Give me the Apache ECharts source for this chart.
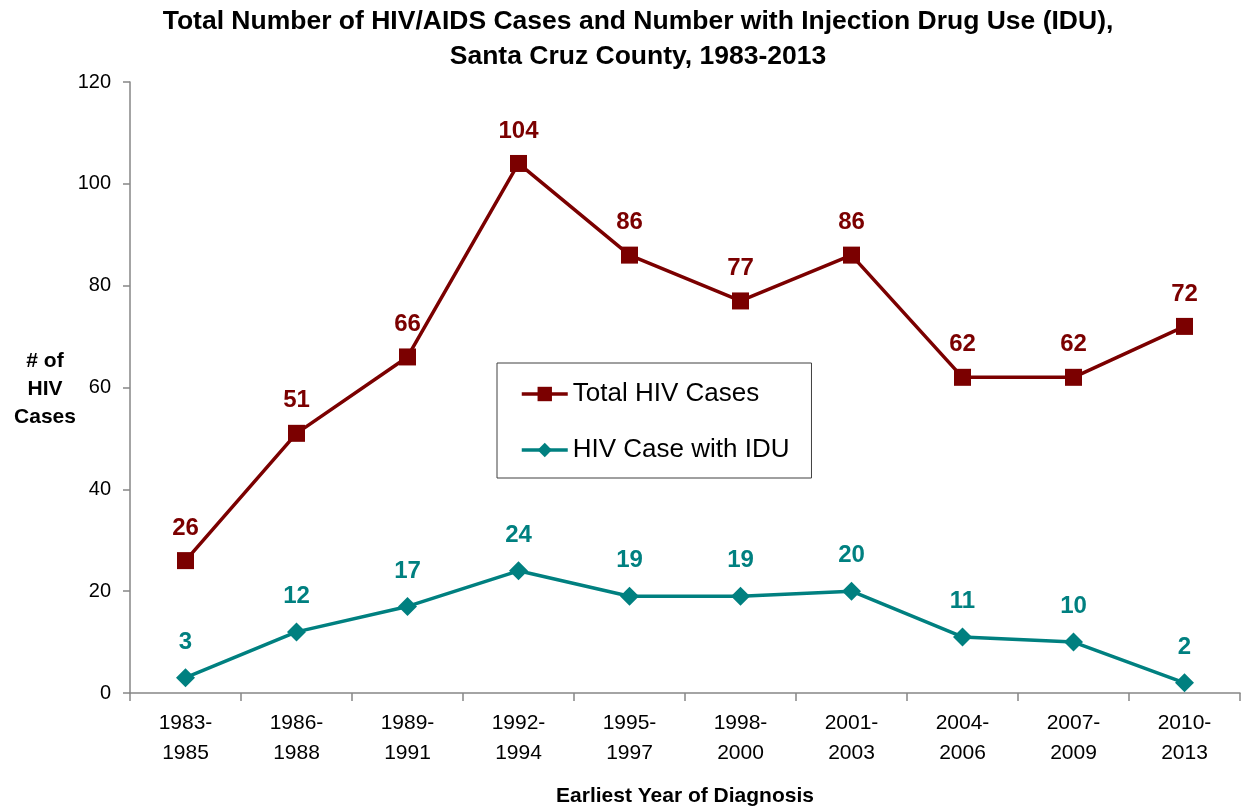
<!DOCTYPE html>
<html>
<head>
<meta charset="utf-8">
<script src="https://cdn.jsdelivr.net/npm/echarts@6/dist/echarts.min.js"></script>
<style>
  html, body { margin: 0; padding: 0; background: #fff; }
  #myChart { width: 1241px; height: 807px; }
</style>
</head>
<body>
<div id="myChart"></div>
<script>
"use strict";
// 数据
var categories = ['1983-\n1985', '1986-\n1988', '1989-\n1991', '1992-\n1994', '1995-\n1997',
                  '1998-\n2000', '2001-\n2003', '2004-\n2006', '2007-\n2009', '2010-\n2013'];
var totalCases = [26, 51, 66, 104, 86, 77, 86, 62, 62, 72];
var iduCases = [3, 12, 17, 24, 19, 19, 20, 11, 10, 2];
var yTicks = [0, 20, 40, 60, 80, 100, 120];

var red = '#7b0000';
var teal = '#008080';
var axisColor = '#868686';
var font = 'Arial, "Liberation Sans", sans-serif';

var myChart = echarts.init(document.getElementById('myChart'));

var option = {
    backgroundColor: '#fff',
    animation: false,
    textStyle: { fontFamily: font },
    title: {
        text: 'Total Number of HIV/AIDS Cases and Number with Injection Drug Use (IDU),\nSanta Cruz County, 1983-2013',
        left: 638,
        textAlign: 'center',
        top: 4,
        padding: 0,
        textStyle: { fontSize: 26.5, fontWeight: 'bold', color: '#000', lineHeight: 35, fontFamily: font }
    },
    legend: {
        orient: 'vertical',
        left: 497,
        top: 363,
        padding: [16, 22, 13, 23],
        itemGap: 26,
        itemWidth: 46,
        itemHeight: 18,
        borderColor: '#404040',
        borderWidth: 1,
        backgroundColor: '#fff',
        lineStyle: { width: 3.5 },
        textStyle: { fontSize: 26, lineHeight: 30, color: '#000', fontFamily: font },
        data: ['Total HIV Cases', 'HIV Case with IDU']
    },
    grid: { left: 130, right: 1, top: 82, bottom: 114, outerBoundsMode: 'none', containLabel: false },
    xAxis: {
        type: 'category',
        data: categories,
        boundaryGap: true,
        name: 'Earliest Year of Diagnosis',
        nameLocation: 'middle',
        nameGap: 93,
        nameTextStyle: { fontSize: 21, fontWeight: 'bold', color: '#000', fontFamily: font },
        axisLine: { lineStyle: { color: axisColor, width: 1.5 } },
        axisTick: { show: true, length: 8, lineStyle: { color: axisColor, width: 1.5 } },
        axisLabel: { fontSize: 21, color: '#000', margin: 15, lineHeight: 30, fontFamily: font }
    },
    yAxis: {
        type: 'value',
        min: yTicks[0],
        max: yTicks[yTicks.length - 1],
        interval: 20,
        splitLine: { show: false },
        axisLine: { show: true, lineStyle: { color: axisColor, width: 1.5 } },
        axisTick: { show: true, length: 7, lineStyle: { color: axisColor, width: 1.5 } },
        axisLabel: { fontSize: 20, color: '#000', margin: 19, fontFamily: font }
    },
    graphic: [{
        type: 'text',
        x: 45,
        y: 347,
        style: {
            text: '# of\nHIV\nCases',
            align: 'center',
            verticalAlign: 'top',
            font: 'bold 21px ' + font,
            lineHeight: 28,
            fill: '#000'
        }
    }],
    series: [
        {
            name: 'Total HIV Cases',
            type: 'line',
            data: totalCases,
            symbol: 'rect',
            symbolSize: 17,
            itemStyle: { color: red },
            lineStyle: { color: red, width: 3.5 },
            label: {
                show: true,
                position: 'top',
                distance: 12,
                fontSize: 24,
                fontWeight: 'bold',
                color: red,
                fontFamily: font
            }
        },
        {
            name: 'HIV Case with IDU',
            type: 'line',
            data: iduCases,
            symbol: 'diamond',
            symbolSize: 19,
            itemStyle: { color: teal },
            lineStyle: { color: teal, width: 3.5 },
            label: {
                show: true,
                position: 'top',
                distance: 14,
                fontSize: 24,
                fontWeight: 'bold',
                color: teal,
                fontFamily: font
            }
        }
    ]
};

myChart.setOption(option);
</script>
</body>
</html>
